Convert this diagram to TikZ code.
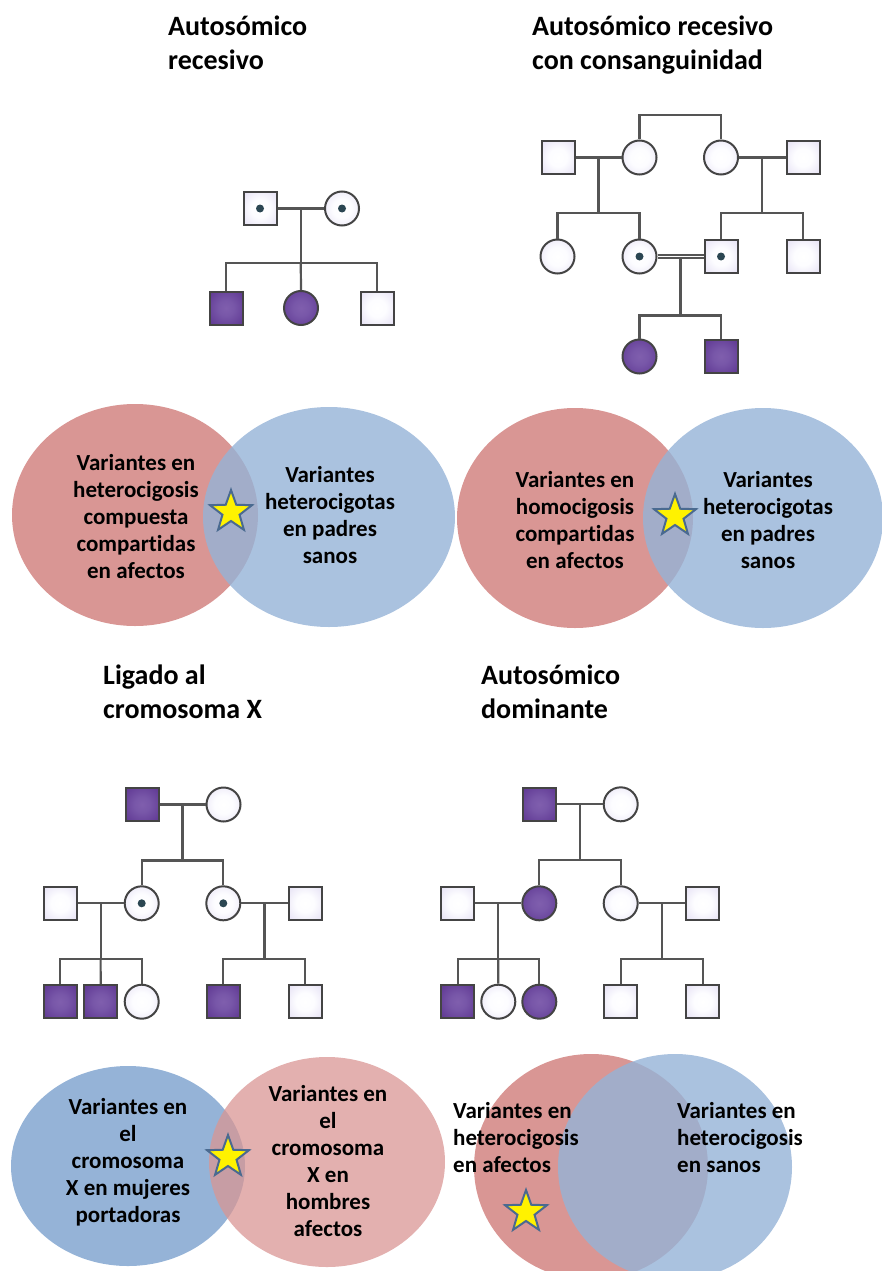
\documentclass[tikz,border=0pt]{standalone}
\usepackage{fontspec}
\setmainfont[Ligatures={NoCommon,NoContextual}]{Carlito}
\usetikzlibrary{shapes.geometric,calc}

\definecolor{vred}{HTML}{D99694}
\definecolor{vblue}{HTML}{95B3D7}
\definecolor{symline}{HTML}{444444}
\definecolor{pedline}{HTML}{555555}
\definecolor{dotc}{HTML}{2B4652}
\definecolor{starline}{HTML}{4A6A90}

% fills of the pedigree symbols: pale lavender rim, purple for affected
\pgfdeclareradialshading{unaff}{\pgfpoint{0bp}{0bp}}{rgb(0bp)=(1,1,1); rgb(14bp)=(0.99,0.99,1); rgb(50bp)=(0.84,0.81,0.93); rgb(71bp)=(0.76,0.72,0.88)}
\pgfdeclareradialshading{aff}{\pgfpoint{0bp}{0bp}}{rgb(0bp)=(0.50,0.37,0.68); rgb(12bp)=(0.47,0.34,0.66); rgb(50bp)=(0.31,0.14,0.52); rgb(71bp)=(0.26,0.09,0.46)}

\begin{document}
\begin{tikzpicture}[x=1pt, y=-1pt,
  ind/.style={draw=symline, line width=2pt, inner sep=0pt, shade, shading=unaff},
  sq/.style={ind, rectangle, minimum size=33pt},
  ci/.style={ind, circle, minimum size=34pt},
  af/.style={shading=aff},
  carrier/.style={path picture={\fill[dotc] (path picture bounding box.center) circle (4pt);}},
  link/.style={draw=pedline, line width=2.2pt},
  title/.style={anchor=base west, inner sep=0pt, font=\fontsize{28}{34}\selectfont\bfseries},
  vtext/.style={align=center, inner sep=0pt, font=\fontsize{23}{27}\selectfont\bfseries},
  vtextl/.style={align=left, inner sep=0pt, font=\fontsize{23}{27}\selectfont\bfseries},
  starmark/.style={star, star points=5, star point ratio=2.45, minimum size=44pt, inner sep=0pt, fill=yellow, draw=starline, line width=2pt}]

\useasboundingbox (0,0) rectangle (882,1271);
\clip (0,0) rectangle (882,1271);

% ---------- titles ----------
\node[title] (t1a) at (168,36) {Autosómico};
\node[title] (t1b) at (168,70) {recesivo};
\node[title] (t2a) at (532,36) {Autosómico recesivo};
\node[title] (t2b) at (532,70) {con consanguinidad};
\node[title] (t3a) at (103,684) {Ligado al};
\node[title] (t3b) at (103,718) {cromosoma X};
\node[title] (t4a) at (481,684) {Autosómico};
\node[title] (t4b) at (481,718) {dominante};

% ---------- pedigree: autosomal recessive ----------
\node[sq, carrier] (p1f) at (260,208.5) {};
\node[ci, carrier] (p1m) at (342,208.5) {};
\node[sq, af] (p1c1) at (226,308) {};
\node[ci, af] (p1c2) at (301,308) {};
\node[sq] (p1c3) at (377,308) {};
\draw[link] (p1f.east) -- (p1m.west);
\coordinate (p1d) at ($(p1f.east)!0.5!(p1m.west)$);
\draw[link] (p1d) -- ++(0,54.5) coordinate (p1s);
\draw[link] (p1c1.north) |- (p1s) -| (p1c3.north);
\draw[link] (p1s) -- (p1c2.north);

% ---------- pedigree: recessive with consanguinity ----------
\node[sq] (p2a) at (558,157.5) {};
\node[ci] (p2b) at (639.5,157.5) {};
\node[ci] (p2c) at (721,157.5) {};
\node[sq] (p2d) at (803,157.5) {};
\node[ci] (p2e) at (557.5,256.5) {};
\node[ci, carrier] (p2f) at (639.5,256.5) {};
\node[sq, carrier] (p2g) at (721,256.5) {};
\node[sq] (p2h) at (803,256.5) {};
\node[ci, af] (p2i) at (639.5,356.5) {};
\node[sq, af] (p2j) at (721,356.5) {};
\coordinate (p2t) at (680,115);
\draw[link] (p2b.north) |- (p2t) -| (p2c.north);
\draw[link] (p2a.east) -- (p2b.west);
\coordinate (p2m1) at ($(p2a.east)!0.5!(p2b.west)$);
\draw[link] (p2m1) -- ++(0,55.5) coordinate (p2s1);
\draw[link] (p2e.north) |- (p2s1) -| (p2f.north);
\draw[link] (p2c.east) -- (p2d.west);
\coordinate (p2m2) at ($(p2c.east)!0.5!(p2d.west)$);
\draw[link] (p2m2) -- ++(0,55.5) coordinate (p2s2);
\draw[link] (p2g.north) |- (p2s2) -| (p2h.north);
\coordinate (p2m3) at ($(p2f.east)!0.5!(p2g.west)$);
\draw[link] (p2m3) -- ++(0,59) coordinate (p2s3);
\draw[link] (p2i.north) |- (p2s3) -| (p2j.north);
\draw[draw=pedline, line width=1.9pt, double=white, double distance=1.8pt] (p2f.east) -- (p2g.west);

% ---------- pedigree: X-linked ----------
\node[sq, af] (p3a) at (142,804.5) {};
\node[ci] (p3b) at (223.5,804.5) {};
\node[ci, carrier] (p3c) at (141.7,903.3) {};
\node[ci, carrier] (p3d) at (223.3,903.3) {};
\node[sq] (p3e) at (60,903.3) {};
\node[sq] (p3f) at (305,903.3) {};
\node[sq, af] (p3g) at (60,1001.7) {};
\node[sq, af] (p3h) at (100.7,1001.7) {};
\node[ci] (p3i) at (141.7,1001.7) {};
\node[sq, af] (p3j) at (223.3,1001.7) {};
\node[sq] (p3k) at (305,1001.7) {};
\draw[link] (p3a.east) -- (p3b.west);
\coordinate (p3m1) at ($(p3a.east)!0.5!(p3b.west)$);
\draw[link] (p3m1) -- ++(0,56) coordinate (p3s1);
\draw[link] (p3c.north) |- (p3s1) -| (p3d.north);
\draw[link] (p3e.east) -- (p3c.west);
\coordinate (p3m2) at ($(p3e.east)!0.5!(p3c.west)$);
\draw[link] (p3m2) -- ++(0,56) coordinate (p3s2);
\draw[link] (p3g.north) |- (p3s2) -| (p3i.north);
\draw[link] (p3s2) -- (p3h.north);
\draw[link] (p3d.east) -- (p3f.west);
\coordinate (p3m3) at ($(p3d.east)!0.5!(p3f.west)$);
\draw[link] (p3m3) -- ++(0,56) coordinate (p3s3);
\draw[link] (p3j.north) |- (p3s3) -| (p3k.north);

% ---------- pedigree: autosomal dominant ----------
\node[sq, af] (p4a) at (539.3,804.3) {};
\node[ci] (p4b) at (620.7,804.3) {};
\node[ci, af] (p4c) at (539.3,903.3) {};
\node[ci] (p4d) at (620.7,903.3) {};
\node[sq] (p4e) at (457.7,903.3) {};
\node[sq] (p4f) at (702.7,903.3) {};
\node[sq, af] (p4g) at (457.7,1001.7) {};
\node[ci] (p4h) at (498.3,1001.7) {};
\node[ci, af] (p4i) at (539.3,1001.7) {};
\node[sq] (p4j) at (620.7,1001.7) {};
\node[sq] (p4k) at (702.7,1001.7) {};
\draw[link] (p4a.east) -- (p4b.west);
\coordinate (p4m1) at ($(p4a.east)!0.5!(p4b.west)$);
\draw[link] (p4m1) -- ++(0,56) coordinate (p4s1);
\draw[link] (p4c.north) |- (p4s1) -| (p4d.north);
\draw[link] (p4e.east) -- (p4c.west);
\coordinate (p4m2) at ($(p4e.east)!0.5!(p4c.west)$);
\draw[link] (p4m2) -- ++(0,56) coordinate (p4s2);
\draw[link] (p4g.north) |- (p4s2) -| (p4i.north);
\draw[link] (p4s2) -- (p4h.north);
\draw[link] (p4d.east) -- (p4f.west);
\coordinate (p4m3) at ($(p4d.east)!0.5!(p4f.west)$);
\draw[link] (p4m3) -- ++(0,56) coordinate (p4s3);
\draw[link] (p4j.north) |- (p4s3) -| (p4k.north);

% ---------- Venn diagrams ----------
\fill[vred] (135,515) ellipse [x radius=123pt, y radius=111pt];
\fill[vblue, fill opacity=0.8] (329,517) ellipse [x radius=126pt, y radius=110pt];

\fill[vred] (575,518) ellipse [x radius=118pt, y radius=110pt];
\fill[vblue, fill opacity=0.8] (763,518) ellipse [x radius=120pt, y radius=110pt];

\fill[vblue] (128,1166) ellipse [x radius=117pt, y radius=100pt];
\fill[vred, fill opacity=0.75] (327,1162) ellipse [x radius=118pt, y radius=105pt];

\fill[vred] (591,1167) ellipse [x radius=117pt, y radius=113pt];
\fill[vblue, fill opacity=0.8] (675,1167) ellipse [x radius=117pt, y radius=113pt];

\node[vtext] (v1l) at (136,517) {Variantes en\\heterocigosis\\compuesta\\compartidas\\en afectos};
\node[vtext] (v1r) at (330,515) {Variantes\\heterocigotas\\en padres\\sanos};
\node[vtext] (v2l) at (575,520) {Variantes en\\homocigosis\\compartidas\\en afectos};
\node[vtext] (v2r) at (768,520) {Variantes\\heterocigotas\\en padres\\sanos};
\node[vtext] (v3l) at (128,1162) {Variantes en\\el\\cromosoma\\X en mujeres\\portadoras};
\node[vtext] (v3r) at (328,1161) {Variantes en\\el\\cromosoma\\X en\\hombres\\afectos};
\node[vtextl, anchor=west] (v4l) at (453,1138) {Variantes en\\heterocigosis\\en afectos};
\node[vtextl, anchor=west] (v4r) at (677,1138) {Variantes en\\heterocigosis\\en sanos};

\node[starmark] (s1) at (231,512) {};
\node[starmark] (s2) at (675,516) {};
\node[starmark] (s3) at (228,1157) {};
\node[starmark] (s4) at (526,1212) {};
\end{tikzpicture}
\end{document}
